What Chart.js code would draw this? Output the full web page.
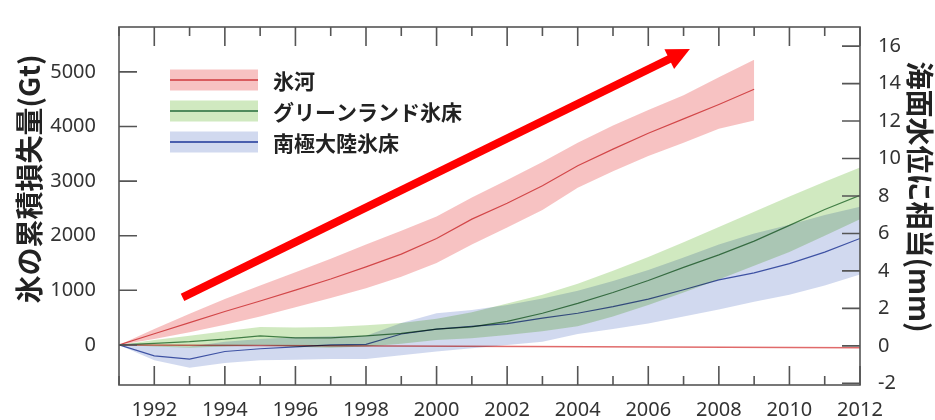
<!DOCTYPE html>
<html lang="ja">
<head>
<meta charset="utf-8">
<title>氷の累積損失量</title>
<script src="https://cdn.jsdelivr.net/npm/chart.js@4.4.1/dist/chart.umd.min.js"></script>
<style>
  html, body { margin: 0; padding: 0; background: #fff; }
  canvas { display: block; }
</style>
</head>
<body>
<canvas id="iceChart" width="935" height="420"></canvas>
<script>
// 年（1991〜2012）
const years = [1991, 1992, 1993, 1994, 1995, 1996, 1997, 1998, 1999, 2000, 2001,
               2002, 2003, 2004, 2005, 2006, 2007, 2008, 2009, 2010, 2011, 2012];

// 氷河（2009年まで）, Gt
const glacierMid  = [0, 204, 408, 612, 805, 1003, 1207, 1428, 1662, 1950, 2303, 2594, 2915, 3280, 3585, 3877, 4139, 4402, 4681];
const glacierHigh = [0, 290, 570, 840, 1090, 1330, 1580, 1840, 2090, 2350, 2700, 3020, 3350, 3700, 4020, 4300, 4570, 4900, 5220];
const glacierLow  = [0, 110, 230, 370, 520, 690, 860, 1040, 1250, 1500, 1840, 2150, 2470, 2880, 3180, 3460, 3700, 3960, 4110];

// グリーンランド氷床
const greenlandMid  = [0, 30, 60, 105, 165, 130, 130, 165, 210, 290, 330, 430, 580, 760, 960, 1180, 1420, 1650, 1900, 2190, 2480, 2740];
const greenlandHigh = [0, 90, 170, 250, 330, 320, 330, 360, 400, 480, 600, 760, 920, 1120, 1360, 1610, 1880, 2160, 2440, 2720, 2990, 3250];
const greenlandLow  = [0, -30, -50, -30, 0, -40, -50, -30, 20, 90, 120, 180, 250, 340, 520, 730, 960, 1200, 1450, 1700, 2000, 2300];

// 南極大陸氷床
const antarcticMid  = [0, -200, -260, -120, -70, -35, 0, 10, 200, 290, 340, 390, 490, 580, 700, 840, 1010, 1190, 1320, 1490, 1700, 1950];
const antarcticHigh = [0, -20, -30, 60, 110, 140, 160, 170, 400, 580, 640, 730, 850, 990, 1170, 1370, 1600, 1840, 2040, 2200, 2380, 2530];
const antarcticLow  = [0, -280, -420, -330, -280, -270, -260, -260, -190, -120, -60, 0, 60, 200, 290, 390, 520, 650, 790, 920, 1090, 1290];

// ゼロ付近の基準線
const baselineYears = [1991, 2012];
const baseline = [0, -50];

// 軸の目盛
const xTickYears = [1992, 1994, 1996, 1998, 2000, 2002, 2004, 2006, 2008, 2010, 2012];
const gtTicks = [0, 1000, 2000, 3000, 4000, 5000];
const mmTicks = [-2, 0, 2, 4, 6, 8, 10, 12, 14, 16];

const seriesNames = ['氷河', 'グリーンランド氷床', '南極大陸氷床'];
const leftTitle = '氷の累積損失量(Gt)';
const rightTitle = '海面水位に相当(mm)';

// 増加傾向を示す矢印（年, Gt）
const arrowFrom = [1992.8, 870];
const arrowTo = [2007.18, 5420];

const bandColors = ['rgba(235, 110, 110, 0.42)', 'rgba(125, 195, 80, 0.36)', 'rgba(115, 140, 205, 0.33)'];
const lineColors = ['#d95c5f', '#4f8a5c', '#4a5fae'];

const CJK = '"Noto Sans CJK JP", "Noto Sans", sans-serif';

function toPoints(values, xs) {
    xs = xs || years;
    return values.map((v, i) => ({ x: xs[i], y: v }));
}

function band(values, color, fill, order) {
    return {
        data: toPoints(values),
        backgroundColor: color,
        borderColor: 'transparent',
        borderWidth: 0,
        pointRadius: 0,
        fill: fill,
        order: order
    };
}

function centerLine(values, color, order) {
    return {
        data: toPoints(values),
        borderColor: color,
        borderWidth: 1.2,
        pointRadius: 0,
        fill: false,
        order: order
    };
}

// 帯の重なりを乗算で描く
const multiplyBands = {
    id: 'multiplyBands',
    beforeDatasetsDraw(chart) {
        chart.ctx.save();
        chart.ctx.globalCompositeOperation = 'multiply';
    },
    afterDatasetsDraw(chart) {
        chart.ctx.restore();
    }
};

// 枠と内向きの目盛
const frameTicks = {
    id: 'frameTicks',
    afterDraw(chart) {
        const { ctx, chartArea: a, scales } = chart;
        const x = scales.x, y = scales.y, y2 = scales.y2;
        ctx.save();
        ctx.strokeStyle = '#555';
        ctx.lineWidth = 1.6;
        ctx.strokeRect(a.left, a.top, a.right - a.left, a.bottom - a.top);
        ctx.beginPath();
        for (let yr = Math.ceil(x.min); yr <= x.max; yr++) {
            const px = x.getPixelForValue(yr);
            const len = yr % 2 === 0 ? 19 : 9;
            ctx.moveTo(px, a.bottom);
            ctx.lineTo(px, a.bottom - len);
            ctx.moveTo(px, a.top);
            ctx.lineTo(px, a.top + len);
        }
        y.ticks.forEach(t => {
            const py = y.getPixelForValue(t.value);
            ctx.moveTo(a.left, py);
            ctx.lineTo(a.left + 18, py);
        });
        y2.ticks.forEach(t => {
            const py = y2.getPixelForValue(t.value);
            ctx.moveTo(a.right, py);
            ctx.lineTo(a.right - 18, py);
        });
        ctx.stroke();
        ctx.restore();
    }
};

// 軸タイトル（縦書き回転）
const axisTitles = {
    id: 'axisTitles',
    afterDraw(chart) {
        const { ctx, chartArea: a } = chart;
        ctx.save();
        ctx.fillStyle = '#222';
        ctx.font = 'bold 28px ' + CJK;
        ctx.textAlign = 'center';
        ctx.textBaseline = 'middle';

        ctx.save();
        ctx.translate(29, a.top + 152);
        ctx.rotate(-Math.PI / 2);
        ctx.fillText(leftTitle, 0, 0);
        ctx.restore();

        ctx.save();
        ctx.translate(a.right + 60, a.top + 170);
        ctx.rotate(Math.PI / 2);
        ctx.fillText(rightTitle, 0, 0);
        ctx.restore();

        ctx.restore();
    }
};

// 凡例（帯＋中心線）
const bandLegend = {
    id: 'bandLegend',
    afterDraw(chart) {
        const { ctx, chartArea: a } = chart;
        const left = a.left + 51;
        ctx.save();
        ctx.font = 'bold 21px ' + CJK;
        ctx.textBaseline = 'middle';
        seriesNames.forEach((name, i) => {
            const cy = a.top + 53 + i * 31;
            ctx.fillStyle = bandColors[i];
            ctx.fillRect(left, cy - 10.5, 88, 21);
            ctx.strokeStyle = lineColors[i];
            ctx.lineWidth = 2;
            ctx.beginPath();
            ctx.moveTo(left, cy);
            ctx.lineTo(left + 88, cy);
            ctx.stroke();
            ctx.fillStyle = '#222';
            ctx.fillText(name, left + 103, cy + 1);
        });
        ctx.restore();
    }
};

// 赤い矢印
const trendArrow = {
    id: 'trendArrow',
    afterDraw(chart) {
        const { ctx, scales: { x, y } } = chart;
        const x0 = x.getPixelForValue(arrowFrom[0]), y0 = y.getPixelForValue(arrowFrom[1]);
        const x1 = x.getPixelForValue(arrowTo[0]), y1 = y.getPixelForValue(arrowTo[1]);
        const ang = Math.atan2(y1 - y0, x1 - x0);
        const headLen = 23, headHalf = 11;
        const bx = x1 - headLen * Math.cos(ang), by = y1 - headLen * Math.sin(ang);
        ctx.save();
        ctx.strokeStyle = '#ff0000';
        ctx.fillStyle = '#ff0000';
        ctx.lineWidth = 8;
        ctx.beginPath();
        ctx.moveTo(x0, y0);
        ctx.lineTo(bx + Math.cos(ang), by + Math.sin(ang));
        ctx.stroke();
        ctx.beginPath();
        ctx.moveTo(x1, y1);
        ctx.lineTo(bx + headHalf * Math.sin(ang), by - headHalf * Math.cos(ang));
        ctx.lineTo(bx - headHalf * Math.sin(ang), by + headHalf * Math.cos(ang));
        ctx.closePath();
        ctx.fill();
        ctx.restore();
    }
};

const tickFont = { family: '"Noto Sans", sans-serif', size: 20 };
const plainNumber = value => String(value);

new Chart(document.getElementById('iceChart').getContext('2d'), {
    type: 'line',
    data: {
        datasets: [
            band(glacierHigh, bandColors[0], '+1', 5),
            band(glacierLow, bandColors[0], false, 5),
            band(greenlandHigh, bandColors[1], '+1', 4),
            band(greenlandLow, bandColors[1], false, 4),
            band(antarcticHigh, bandColors[2], '+1', 3),
            band(antarcticLow, bandColors[2], false, 3),
            {
                data: toPoints(baseline, baselineYears),
                borderColor: '#e06a6a',
                borderWidth: 1.5,
                pointRadius: 0,
                fill: false,
                order: 2
            },
            centerLine(glacierMid, lineColors[0], 1),
            centerLine(greenlandMid, lineColors[1], 1),
            centerLine(antarcticMid, lineColors[2], 1)
        ]
    },
    options: {
        responsive: false,
        animation: false,
        layout: { padding: { top: 10, left: 0, right: 0, bottom: 0 } },
        plugins: {
            legend: { display: false },
            tooltip: { enabled: false }
        },
        scales: {
            x: {
                type: 'linear',
                min: 1991,
                max: 2012,
                grid: { display: false },
                border: { display: false },
                ticks: { font: tickFont, color: '#333', padding: 5, maxRotation: 0, callback: plainNumber },
                afterBuildTicks(scale) { scale.ticks = xTickYears.map(v => ({ value: v })); },
                afterFit(scale) { scale.height = 35; }
            },
            y: {
                position: 'left',
                min: -734,
                max: 5822,
                grid: { display: false },
                border: { display: false },
                ticks: { font: tickFont, color: '#333', padding: 15, callback: plainNumber },
                afterBuildTicks(scale) { scale.ticks = gtTicks.map(v => ({ value: v })); },
                afterFit(scale) { scale.width = 119; }
            },
            y2: {
                position: 'right',
                min: -2.09,
                max: 17.02,
                grid: { display: false },
                border: { display: false },
                ticks: { font: tickFont, color: '#333', padding: 10, callback: plainNumber },
                afterBuildTicks(scale) { scale.ticks = mmTicks.map(v => ({ value: v })); },
                afterFit(scale) { scale.width = 75; }
            }
        }
    },
    plugins: [multiplyBands, frameTicks, bandLegend, axisTitles, trendArrow]
});
</script>
</body>
</html>
